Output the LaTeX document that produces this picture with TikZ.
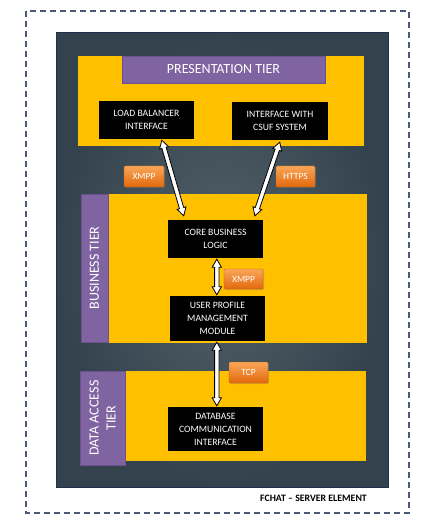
\documentclass[tikz,border=0pt]{standalone}
\usepackage{fontspec}
\setmainfont{Carlito}
\usetikzlibrary{calc,shadows}
\definecolor{frameblue}{HTML}{4A5A78}
\definecolor{panelin}{HTML}{52626A}
\definecolor{panelout}{HTML}{33424C}
\definecolor{panelborder}{HTML}{1F2F50}
\definecolor{tieryellow}{HTML}{FFC000}
\definecolor{tierpurple}{HTML}{8064A2}
\definecolor{purpleedge}{HTML}{6B5190}
\definecolor{orangetop}{HTML}{F9A65A}
\definecolor{orangebot}{HTML}{E2690B}
\definecolor{orangeedge}{HTML}{C55A11}
\tikzset{
  tierlabel/.style={fill=tierpurple, draw=purpleedge, line width=0.4pt, text=white, font=\fontsize{14}{16}\selectfont, inner sep=0pt},
  compbox/.style={fill=black, text=white, align=center, font=\fontsize{9.7}{13}\selectfont, inner sep=0pt},
  badge/.style={top color=orangetop, bottom color=orangebot, draw=orangeedge, line width=0.3pt, rounded corners=1.2pt, text=white, font=\fontsize{9.5}{10}\selectfont, inner sep=0pt, minimum width=39pt, minimum height=21pt, drop shadow={shadow xshift=1pt, shadow yshift=-1pt, opacity=0.35}},
  blockarrow/.style={draw=black, fill=white, line width=0.8pt, line join=miter}
}
\newcommand\dblarrow[2]{%
  \coordinate (m1) at ($(#1)!8pt!(#2)$);
  \coordinate (m2) at ($(#2)!8pt!(#1)$);
  \draw[blockarrow] (#1) -- ($(m1)!4.6pt!90:(#2)$) -- ($(m1)!2.2pt!90:(#2)$)
    -- ($(m2)!2.2pt!-90:(#1)$) -- ($(m2)!4.6pt!-90:(#1)$) -- (#2)
    -- ($(m2)!4.6pt!90:(#1)$) -- ($(m2)!2.2pt!90:(#1)$)
    -- ($(m1)!2.2pt!-90:(#2)$) -- ($(m1)!4.6pt!-90:(#2)$) -- cycle;}
\begin{document}
\begin{tikzpicture}[x=1pt,y=-1pt]
\useasboundingbox (0,0) rectangle (437,529);
\fill[white] (0,0) rectangle (437,529);
% outer dashed frame
\draw[frameblue, line width=1.3pt, dash pattern=on 6pt off 4pt] (26,11) rectangle (409,513);
% dark panel
\node[draw=panelborder, line width=1pt, inner color=panelin, outer color=panelout, minimum width=332pt, minimum height=454pt, inner sep=0pt] (panel) at (222,260) {};
% presentation tier
\node[fill=tieryellow, minimum width=286pt, minimum height=90pt, inner sep=0pt] (pres) at (221,101) {};
\node[tierlabel, minimum width=203pt, minimum height=27pt] (preslabel) at (223.5,69.5) {PRESENTATION TIER};
\node[compbox, minimum width=95pt, minimum height=38pt] (lb) at (146.5,120) {LOAD BALANCER\\INTERFACE};
\node[compbox, minimum width=96pt, minimum height=38pt] (csuf) at (280,121) {INTERFACE WITH\\CSUF SYSTEM};
% badges between tiers
\node[badge, minimum width=40pt] (xmpp1) at (144,176.5) {XMPP};
\node[badge] (https) at (295.5,176.5) {HTTPS};
% business tier
\node[fill=tieryellow, minimum width=286pt, minimum height=149pt, inner sep=0pt] (bus) at (224,268.5) {};
\node[tierlabel, minimum width=148pt, minimum height=27pt, rotate=90] (buslabel) at (94.5,268) {BUSINESS TIER};
\node[compbox, minimum width=95pt, minimum height=38pt] (core) at (215.5,239) {CORE BUSINESS\\LOGIC};
\node[badge, minimum height=20pt] (xmpp2) at (243.5,279) {XMPP};
\node[compbox, minimum width=95pt, minimum height=45pt] (upm) at (217.5,318.5) {USER PROFILE\\MANAGEMENT\\MODULE};
% data access tier
\node[fill=tieryellow, minimum width=286pt, minimum height=90pt, inner sep=0pt] (data) at (223,416) {};
\node[tierlabel, align=center, minimum width=94pt, minimum height=45pt, rotate=90, font=\fontsize{14}{17}\selectfont] (datalabel) at (102.5,418) {DATA ACCESS\\TIER};
\node[compbox, minimum width=95pt, minimum height=44pt] (db) at (215.5,429) {DATABASE\\COMMUNICATION\\INTERFACE};
\node[badge] (tcp) at (248.5,372.5) {TCP};
% caption
\node[anchor=east, font=\bfseries\fontsize{9.8}{11}\selectfont, inner sep=0pt] (caption) at (367,498) {FCHAT – SERVER ELEMENT};
% arrows
\coordinate (a1s) at ($(lb.south west)+(63,1)$);
\coordinate (a1e) at ($(core.north west)+(16,-4)$);
\coordinate (a2s) at ($(csuf.south west)+(48,2)$);
\coordinate (a2e) at ($(core.north west)+(87,-4)$);
\coordinate (a3s) at ($(core.south west)+(49,1)$);
\coordinate (a3e) at ($(upm.north west)+(47,-1)$);
\coordinate (a4s) at ($(upm.south west)+(47,1)$);
\coordinate (a4e) at ($(db.north west)+(49,-1)$);
\dblarrow{a1s}{a1e}
\dblarrow{a2s}{a2e}
\dblarrow{a3s}{a3e}
\dblarrow{a4s}{a4e}
\end{tikzpicture}
\end{document}
